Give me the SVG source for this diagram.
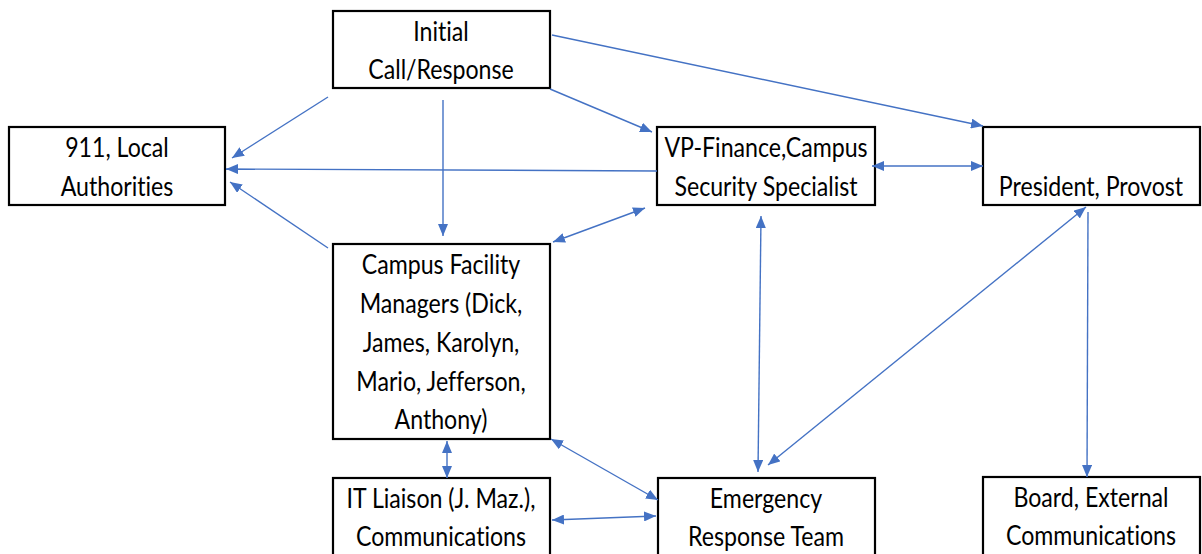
<svg xmlns="http://www.w3.org/2000/svg" width="1202" height="554" viewBox="0 0 1202 554">
<style>
.box{fill:#fff;stroke:#000;stroke-width:2.2}
.t{font-family:Lato,"Liberation Sans",sans-serif;font-size:26px;fill:#000;text-anchor:middle;font-variant-ligatures:none;transform-box:fill-box;transform-origin:center;transform:scaleX(0.89)}
.c{stroke:#4472C4;stroke-width:1.4;fill:none}
.e{marker-end:url(#ah)}
.b{marker-start:url(#ah);marker-end:url(#ah)}
</style>
<defs>
<marker id="ah" markerUnits="userSpaceOnUse" markerWidth="12" markerHeight="10" refX="12" refY="5" orient="auto-start-reverse">
<path d="M0,0 L12,5 L0,10 z" fill="#4472C4"/>
</marker>
</defs>
<rect width="1202" height="554" fill="#fff"/>
<g id="nodes">
<g id="initial"><rect class="box" x="333" y="11" width="217" height="77"/><text class="t" x="441" y="41">Initial</text><text class="t" x="441" y="79">Call/Response</text></g>
<g id="local"><rect class="box" x="9" y="127" width="216" height="78"/><text class="t" x="117" y="157">911, Local</text><text class="t" x="117" y="196">Authorities</text></g>
<g id="vp"><rect class="box" x="657" y="127" width="218" height="78"/><text class="t" x="766" y="157">VP-Finance,Campus</text><text class="t" x="766" y="196">Security Specialist</text></g>
<g id="president"><rect class="box" x="983" y="127" width="217" height="78"/><text class="t" x="1091" y="196">President, Provost</text></g>
<g id="facility"><rect class="box" x="333" y="244" width="217" height="195"/><text class="t" x="441" y="274">Campus Facility</text><text class="t" x="441" y="313">Managers (Dick,</text><text class="t" x="441" y="352">James, Karolyn,</text><text class="t" x="441" y="391">Mario, Jefferson,</text><text class="t" x="441" y="429">Anthony)</text></g>
<g id="it"><rect class="box" x="333" y="478" width="217" height="90"/><text class="t" x="441" y="508">IT Liaison (J. Maz.),</text><text class="t" x="441" y="546">Communications</text></g>
<g id="ert"><rect class="box" x="658" y="478" width="217" height="90"/><text class="t" x="766" y="508">Emergency</text><text class="t" x="766" y="546">Response Team</text></g>
<g id="board"><rect class="box" x="983" y="477" width="217" height="90"/><text class="t" x="1091" y="507">Board, External</text><text class="t" x="1091" y="545">Communications</text></g>
</g>
<g id="connectors">
<line class="c e" x1="328" y1="97" x2="232" y2="158"/>
<line class="c e" x1="443" y1="100" x2="443" y2="236"/>
<line class="c e" x1="550" y1="89" x2="652" y2="132"/>
<line class="c e" x1="552" y1="35" x2="983" y2="126"/>
<line class="c e" x1="657" y1="171" x2="226" y2="169"/>
<line class="c e" x1="328" y1="248" x2="230" y2="182"/>
<line class="c b" x1="553" y1="242" x2="645" y2="208"/>
<line class="c b" x1="872" y1="166" x2="983" y2="166"/>
<line class="c b" x1="761" y1="216" x2="758" y2="472"/>
<line class="c b" x1="1086" y1="207" x2="768" y2="465"/>
<line class="c e" x1="1088" y1="212" x2="1087" y2="477"/>
<line class="c b" x1="447" y1="441" x2="447" y2="478"/>
<line class="c b" x1="551" y1="439" x2="658" y2="500"/>
<line class="c b" x1="552" y1="520" x2="656" y2="516"/>
</g>
</svg>
